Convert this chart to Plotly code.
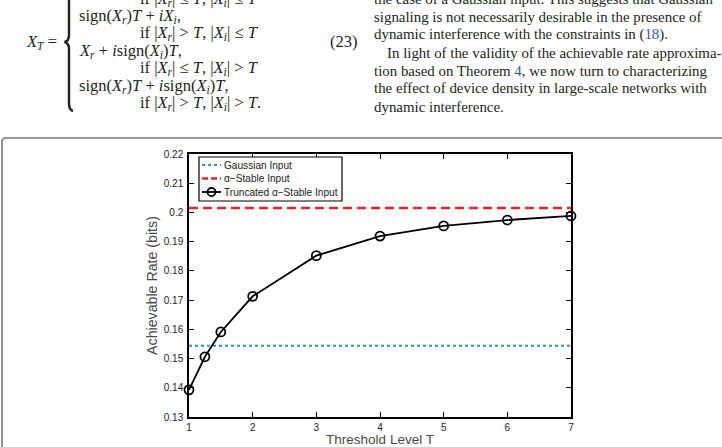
import plotly.graph_objects as go

# ---------------- data ----------------
threshold_T = [1, 1.25, 1.5, 2, 3, 4, 5, 6, 7]
truncated_rate = [0.1393, 0.1506, 0.1591, 0.1713, 0.1852, 0.1919, 0.1954, 0.1974, 0.1988]
gaussian_rate = 0.1544
stable_rate = 0.2015
x_ticks = [1, 2, 3, 4, 5, 6, 7]
y_ticks = [0.13, 0.14, 0.15, 0.16, 0.17, 0.18, 0.19, 0.20, 0.21, 0.22]
y_tick_labels = ["0.13", "0.14", "0.15", "0.16", "0.17", "0.18", "0.19", "0.2", "0.21", "0.22"]
legend_labels = ["Gaussian Input", "α−Stable Input", "Truncated α−Stable Input"]

# ---------------- geometry helpers ----------------
WID, HEI = 722, 447
L, T, R, B = 189, 154, 571, 417
PW, PH = R - L, B - T


def px(x):
    return (x - L) / PW


def py(y):
    return (B - y) / PH


BLUE = "#2b8fd1"
RED = "#e5262b"
TXT = "#231f20"
LINK = "#3450c8"

fig = go.Figure()

fig.add_trace(go.Scatter(
    x=[x_ticks[0], x_ticks[-1]], y=[gaussian_rate, gaussian_rate], mode="lines",
    line=dict(color=BLUE, width=2, dash="dot"), name=legend_labels[0], showlegend=False))
fig.add_trace(go.Scatter(
    x=[x_ticks[0], x_ticks[-1]], y=[stable_rate, stable_rate], mode="lines",
    line=dict(color=RED, width=2.5, dash="9px,5px"), name=legend_labels[1], showlegend=False))
fig.add_trace(go.Scatter(
    x=threshold_T, y=truncated_rate, mode="lines+markers",
    line=dict(color="black", width=1.8),
    marker=dict(symbol="circle-open", size=9, color="black", line=dict(width=1.8, color="black")),
    name=legend_labels[2], showlegend=False, cliponaxis=False))

shapes = []
annotations = []

# ---- manual legend (matlab style, compact) ----
lx0, lx1, ly0, ly1 = 199, 342, 157, 201
shapes.append(dict(type="rect", xref="paper", yref="paper", x0=px(lx0), x1=px(lx1), y0=py(ly1), y1=py(ly0),
                   line=dict(color="black", width=1.2), fillcolor="white", layer="above"))
rows = [165, 178.5, 192]
styles = [dict(color=BLUE, width=2, dash="dot"), dict(color=RED, width=2.5, dash="6px,3px"),
          dict(color="black", width=1.8)]
for yy, st, lab in zip(rows, styles, legend_labels):
    shapes.append(dict(type="line", xref="paper", yref="paper", x0=px(202), x1=px(221), y0=py(yy), y1=py(yy),
                       line=st, layer="above"))
    annotations.append(dict(xref="paper", yref="paper", x=px(221.5), y=py(yy), text=lab, showarrow=False,
                            xanchor="left", yanchor="middle", font=dict(size=10.1, color="#1a1a1a",
                                                                        family="Liberation Sans, Arial")))
shapes.append(dict(type="circle", xref="paper", yref="paper", x0=px(207.5), x1=px(215.5), y0=py(196), y1=py(188),
                   line=dict(color="black", width=1.8), fillcolor="rgba(0,0,0,0)", layer="above"))

# ---- figure frame (rounded box) ----
shapes.append(dict(type="path", xref="paper", yref="paper",
                   path=f"M {px(2)},{py(470)} L {px(2)},{py(142)} Q {px(2)},{py(138)} {px(6)},{py(138)} L {px(740)},{py(138)}",
                   line=dict(color="#777777", width=1.6)))

# ---- equation on the left ----
SERIF = "Liberation Serif, Times New Roman, serif"
eq_lines = [
    (138, -1.5, "if |<i>X<sub>r</sub></i>| ≤ <i>T</i>, |<i>X<sub>i</sub></i>| ≤ <i>T</i>"),
    (77, 16, "sign(<i>X<sub>r</sub></i>)<i>T</i> + <i>iX<sub>i</sub></i>,"),
    (138, 33, "if |<i>X<sub>r</sub></i>| &gt; <i>T</i>, |<i>X<sub>i</sub></i>| ≤ <i>T</i>"),
    (77, 51, "<i>X<sub>r</sub></i> + <i>i</i>sign(<i>X<sub>i</sub></i>)<i>T</i>,"),
    (138, 68, "if |<i>X<sub>r</sub></i>| ≤ <i>T</i>, |<i>X<sub>i</sub></i>| &gt; <i>T</i>"),
    (77, 86, "sign(<i>X<sub>r</sub></i>)<i>T</i> + <i>i</i>sign(<i>X<sub>i</sub></i>)<i>T</i>,"),
    (138, 103, "if |<i>X<sub>r</sub></i>| &gt; <i>T</i>, |<i>X<sub>i</sub></i>| &gt; <i>T</i>."),
    (24, 42, "<i>X<sub>T</sub></i> ="),
    (328, 42, "(23)"),
]
for xx, yy, tx in eq_lines:
    annotations.append(dict(xref="paper", yref="paper", x=px(xx), y=py(yy), text=tx, showarrow=False,
                            xanchor="left", yanchor="middle", font=dict(size=16.5, color=TXT, family=SERIF)))
# brace
shapes.append(dict(type="path", xref="paper", yref="paper",
                   path=(f"M {px(73)},{py(-14)} Q {px(69)},{py(-12)} {px(69)},{py(-4)} L {px(69)},{py(35)} "
                         f"Q {px(69)},{py(41)} {px(64.5)},{py(42)} Q {px(69)},{py(43)} {px(69)},{py(49)} "
                         f"L {px(69)},{py(103)} Q {px(69)},{py(110)} {px(73)},{py(111)}"),
                   line=dict(color=TXT, width=2.4)))

# ---- body text on the right ----
body = [
    (372, -1, "the case of a Gaussian input. This suggests that Gaussian"),
    (372, 16.5, "signaling is not necessarily desirable in the presence of"),
    (372, 34.5, f"dynamic interference with the constraints in (<span style='color:{LINK}'>18</span>)."),
    (385, 52.5, "In light of the validity of the achievable rate approxima-"),
    (372, 70.5, f"tion based on Theorem <span style='color:{LINK}'>4</span>, we now turn to characterizing"),
    (372, 88.5, "the effect of device density in large-scale networks with"),
    (372, 106.5, "dynamic interference."),
]
for xx, yy, tx in body:
    annotations.append(dict(xref="paper", yref="paper", x=px(xx), y=py(yy), text=tx, showarrow=False,
                            xanchor="left", yanchor="middle", font=dict(size=14.9, color=TXT, family=SERIF)))

SANS = "Liberation Sans, Arial, Helvetica"
fig.update_layout(
    width=WID, height=HEI,
    margin=dict(l=L, r=WID - R, t=T, b=HEI - B, pad=0, autoexpand=False),
    paper_bgcolor="white", plot_bgcolor="white",
    showlegend=False,
    shapes=shapes, annotations=annotations,
    font=dict(family=SANS, color="#222222"),
    xaxis=dict(range=[1, 7], tickvals=x_ticks, ticks="inside", ticklen=5, tickwidth=1, tickcolor="black",
               showline=True, linecolor="black", linewidth=1.5, mirror="ticks", showgrid=False, zeroline=False,
               tickfont=dict(size=10, color="#222222"), automargin=False, ticklabelstandoff=0,
               title=dict(text="Threshold Level T", font=dict(size=13.5, color="#4a4a4a"), standoff=2)),
    yaxis=dict(range=[0.13, 0.22], tickvals=y_ticks, ticktext=y_tick_labels, ticks="inside", ticklen=5,
               tickwidth=1, tickcolor="black", automargin=False, ticklabelstandoff=2,
               showline=True, linecolor="black", linewidth=1.5, mirror="ticks", showgrid=False, zeroline=False,
               tickfont=dict(size=10, color="#222222"),
               title=dict(text="Achievable Rate (bits)", font=dict(size=14.2, color="#4a4a4a"), standoff=3)),
)

fig.write_html("out.html")
